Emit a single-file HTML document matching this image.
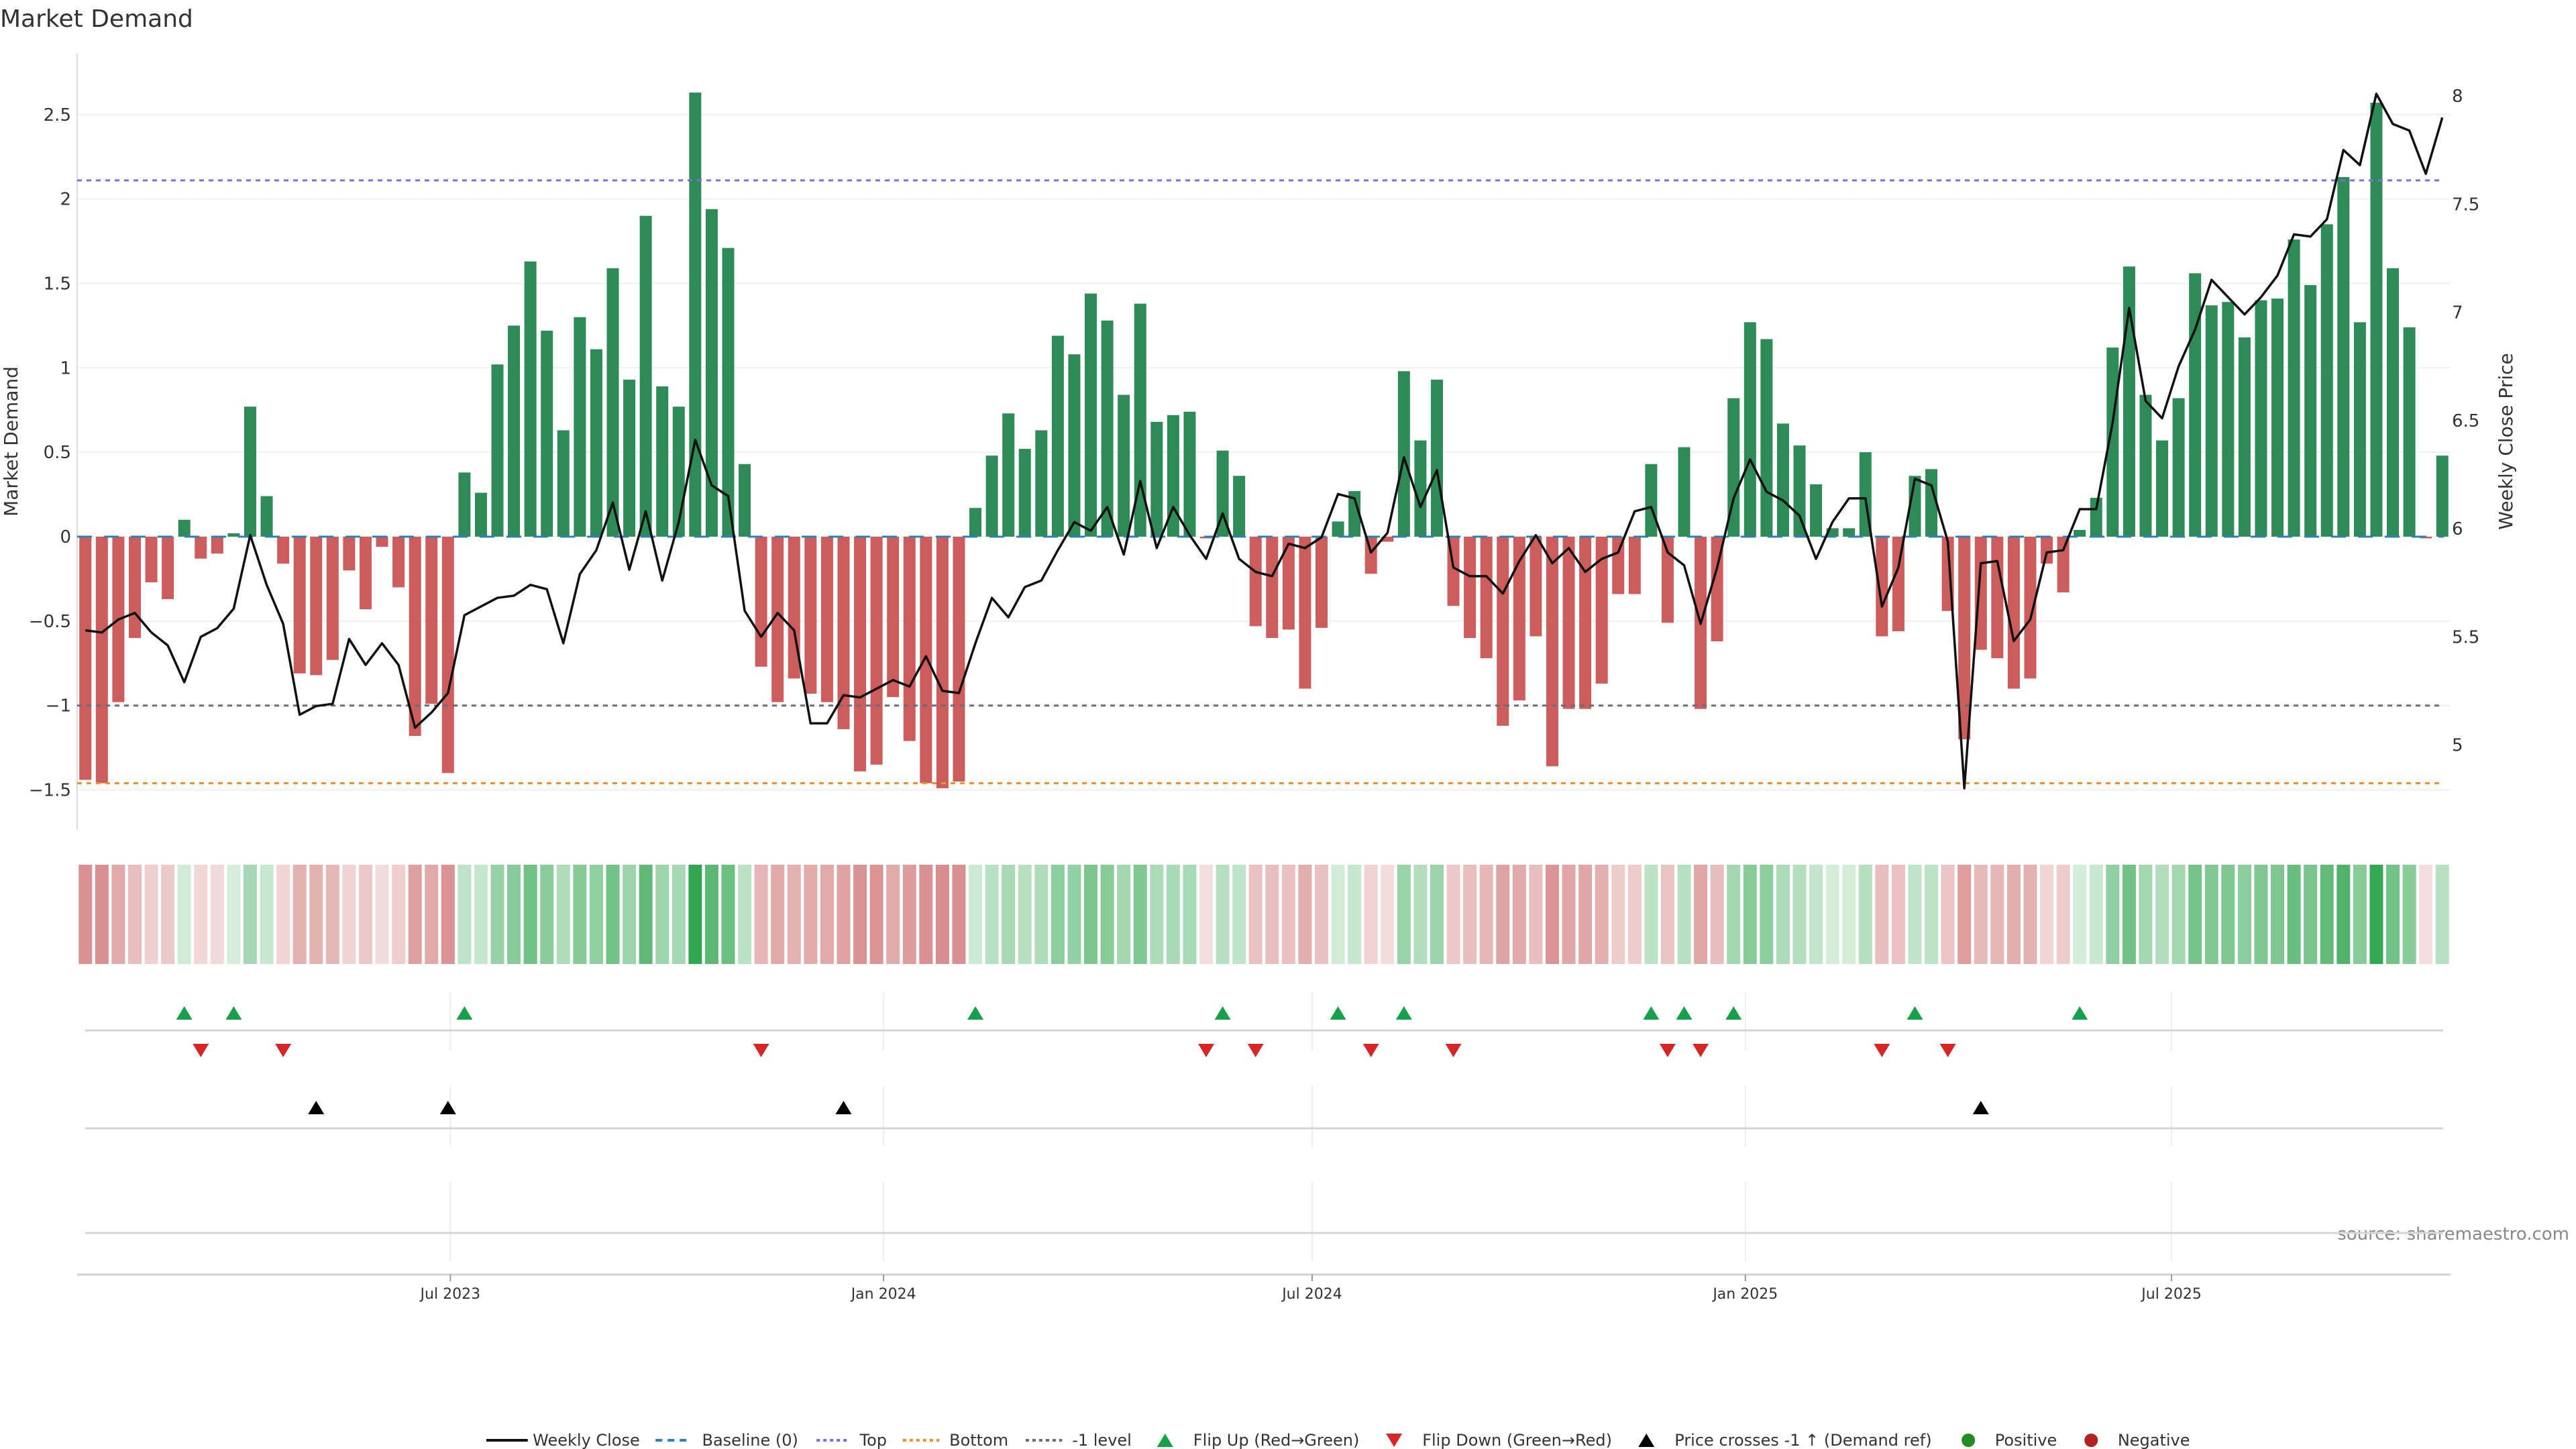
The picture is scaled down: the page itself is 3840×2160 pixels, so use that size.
<!DOCTYPE html>
<html><head><meta charset="utf-8"><title>Market Demand</title>
<style>html,body{margin:0;padding:0;background:#fff}svg{display:block;font-family:"DejaVu Sans","Liberation Sans",sans-serif}</style>
</head><body>
<svg id="chart" xmlns="http://www.w3.org/2000/svg" width="3840" height="2160" viewBox="0 0 3840 2160">
<text x="0" y="40" font-size="36" fill="#333">Market Demand</text>
<text transform="translate(26,658) rotate(-90)" text-anchor="middle" font-size="28" fill="#333">Market Demand</text>
<text transform="translate(3745,658) rotate(-90)" text-anchor="middle" font-size="28" fill="#333">Weekly Close Price</text>
<text x="3830" y="1848" text-anchor="end" font-size="26" fill="#888">source: sharemaestro.com</text>
<g id="g"></g>
</svg>
<script>
const demand=[-1.44,-1.46,-0.98,-0.60,-0.27,-0.37,0.10,-0.13,-0.10,0.02,0.77,0.24,-0.16,-0.81,-0.82,-0.73,-0.20,-0.43,-0.06,-0.30,-1.18,-0.99,-1.40,0.38,0.26,1.02,1.25,1.63,1.22,0.63,1.30,1.11,1.59,0.93,1.90,0.89,0.77,2.63,1.94,1.71,0.43,-0.77,-0.98,-0.84,-0.93,-0.98,-1.14,-1.39,-1.35,-0.95,-1.21,-1.46,-1.49,-1.45,0.17,0.48,0.73,0.52,0.63,1.19,1.08,1.44,1.28,0.84,1.38,0.68,0.72,0.74,-0.01,0.51,0.36,-0.53,-0.60,-0.55,-0.90,-0.54,0.09,0.27,-0.22,-0.03,0.98,0.57,0.93,-0.41,-0.60,-0.72,-1.12,-0.97,-0.59,-1.36,-1.02,-1.02,-0.87,-0.34,-0.34,0.43,-0.51,0.53,-1.02,-0.62,0.82,1.27,1.17,0.67,0.54,0.31,0.05,0.05,0.50,-0.59,-0.56,0.36,0.40,-0.44,-1.20,-0.67,-0.72,-0.90,-0.84,-0.16,-0.33,0.04,0.23,1.12,1.60,0.84,0.57,0.82,1.56,1.37,1.39,1.18,1.40,1.41,1.76,1.49,1.85,2.13,1.27,2.57,1.59,1.24,-0.01,0.48];
const closePrice=[5.53,5.52,5.58,5.61,5.52,5.46,5.29,5.50,5.54,5.63,5.97,5.74,5.56,5.14,5.18,5.19,5.49,5.37,5.47,5.37,5.08,5.15,5.24,5.60,5.64,5.68,5.69,5.74,5.72,5.47,5.79,5.90,6.12,5.81,6.08,5.76,6.03,6.41,6.20,6.15,5.62,5.50,5.61,5.53,5.10,5.10,5.23,5.22,5.26,5.30,5.27,5.41,5.25,5.24,5.47,5.68,5.59,5.73,5.76,5.90,6.03,5.99,6.10,5.88,6.22,5.91,6.10,5.97,5.86,6.07,5.86,5.80,5.78,5.93,5.91,5.96,6.16,6.14,5.89,5.98,6.33,6.10,6.27,5.82,5.78,5.78,5.70,5.85,5.97,5.84,5.91,5.80,5.86,5.89,6.08,6.10,5.89,5.83,5.56,5.82,6.14,6.32,6.17,6.13,6.06,5.86,6.03,6.14,6.14,5.64,5.82,6.23,6.20,5.94,4.80,5.84,5.85,5.48,5.58,5.89,5.90,6.09,6.09,6.49,7.02,6.59,6.51,6.75,6.92,7.15,7.07,6.99,7.07,7.17,7.36,7.35,7.43,7.75,7.68,8.01,7.87,7.84,7.64,7.90];
const flipUpIdx=[6,9,23,54,69,76,80,95,97,100,111,121];
const flipDownIdx=[7,12,41,68,71,78,83,96,98,109,113];
const crossIdx=[14,22,46,115];
const leftTicks=[-1.5,-1,-0.5,0,0.5,1,1.5,2,2.5];
const leftTickLabels=["−1.5","−1","−0.5","0","0.5","1","1.5","2","2.5"];
const rightTicks=[5,5.5,6,6.5,7,7.5,8];
const rightTickLabels=["5","5.5","6","6.5","7","7.5","8"];
const dateTicks=["2023-07-01","2024-01-01","2024-07-01","2025-01-01","2025-07-01"];
const dateTickLabels=["Jul 2023","Jan 2024","Jul 2024","Jan 2025","Jul 2025"];
const startDate="2023-01-27";
const topLevel=2.11, bottomLevel=-1.46, minusOneLevel=-1;

const NS="http://www.w3.org/2000/svg";
const g=document.getElementById('g');
const X0=115,X1=3653,N=demand.length,STEP=(X1-X0)/N;
function xi(i){return X0+(i+0.5)*STEP;}
function yv(v){return 800-v*251.7;}
function yp(p){return 788-(p-6)*322.5;}
function xd(s){const d=(new Date(s)-new Date(startDate))/(86400000*7);return xi(d);}
function mk(t,a,p){const e=document.createElementNS(NS,t);for(const k in a)e.setAttribute(k,a[k]);(p||g).appendChild(e);return e;}

leftTicks.forEach((v,k)=>{
 const l=mk('line',{x1:X0,x2:X1,y1:yv(v),y2:yv(v),stroke:'#eef0f3','stroke-width':2});
 
 
 const t=mk('text',{x:106,y:yv(v)+9,'text-anchor':'end','font-size':26,fill:'#333'});
 t.textContent=leftTickLabels[k];
 
 
});
rightTicks.forEach((p,k)=>{
 const t=mk('text',{x:3655,y:yp(p)+9,'font-size':26,fill:'#333'});
 t.textContent=rightTickLabels[k];
 
 
});
const ax=mk('line',{x1:X0,x2:X0,y1:79,y2:1237,stroke:'#ddd','stroke-width':2});



demand.forEach((v,i)=>{
 const y0=yv(0),y1=yv(v);
 const r=mk('rect',{x:xi(i)-9,y:Math.min(y0,y1),width:18,height:Math.max(1.5,Math.abs(y1-y0)),fill:v>=0?'#2e8b57':'#cd5c5c'});
 
 
});
function hline(v,color,name,dash){
 const l=mk('line',{x1:X0,x2:X1-10,y1:yv(v),y2:yv(v),stroke:color,'stroke-width':3,'stroke-dasharray':dash});
 
 
}
hline(0,'#2f7fb8','baseline-line','22 18');
hline(topLevel,'#7b6fdc','top-line','7 7');
hline(bottomLevel,'#f0922b','bottom-line','7 7');
hline(minusOneLevel,'#6b6b7b','minus-one-line','7 7');
const pts=closePrice.map((p,i)=>xi(i).toFixed(1)+','+yp(p).toFixed(1)).join(' ');
const pl=mk('polyline',{points:pts,fill:'none',stroke:'#111','stroke-width':3.5,'stroke-linejoin':'round'});



function heat(v){
 if(v>=0){const a=Math.min(1,v/2.6);const c0=[214,238,220],c1=[52,166,82];return 'rgb('+c0.map((c,k)=>Math.round(c+(c1[k]-c)*a)).join(',')+')';}
 const a=Math.min(1,-v/1.6);const c0=[244,222,222],c1=[214,136,136];return 'rgb('+c0.map((c,k)=>Math.round(c+(c1[k]-c)*a)).join(',')+')';}
demand.forEach((v,i)=>{
 const r=mk('rect',{x:xi(i)-10,y:1289,width:20,height:148,fill:heat(v)});
 
 
});

[[1479,1566],[1619,1709],[1762,1880]].forEach(([a,b])=>{
 dateTicks.forEach(d=>{const l=mk('line',{x1:xd(d),x2:xd(d),y1:a,y2:b,stroke:'#eceef1','stroke-width':2});
  
  });
});
[1536,1682,1838].forEach(y=>{const l=mk('line',{x1:127,x2:3642,y1:y,y2:y,stroke:'#d4d4d4','stroke-width':3});
 
 });
const bx=mk('line',{x1:X0,x2:X1,y1:1900,y2:1900,stroke:'#d0d0d0','stroke-width':3});


dateTicks.forEach((d,k)=>{
 const tk=mk('line',{x1:xd(d),x2:xd(d),y1:1900,y2:1910,stroke:'#999','stroke-width':2});
 
 
 const t=mk('text',{x:xd(d),y:1936,'text-anchor':'middle','font-size':22,fill:'#333'});
 t.textContent=dateTickLabels[k];
 
 
});
function tri(cx,cy,up,color){const h=20,w=12;
 const p=up?`${cx-w},${cy+h/2} ${cx+w},${cy+h/2} ${cx},${cy-h/2}`:`${cx-w},${cy-h/2} ${cx+w},${cy-h/2} ${cx},${cy+h/2}`;
 return mk('polygon',{points:p,fill:color});}
flipUpIdx.forEach(i=>{const m=tri(xi(i),1510,true,'#16a04a');
 
 });
flipDownIdx.forEach(i=>{const m=tri(xi(i),1566,false,'#d62728');
 
 });
crossIdx.forEach(i=>{const m=tri(xi(i),1651,true,'#000');
 
 });

const L=2.474,LY=2147;
function ltext(x,s){const t=mk('text',{x:x*L,y:LY+8,'font-size':24,fill:'#333'});t.textContent=s;
 
 }
function lline(x1,x2,c,dash,w){const l=mk('line',{x1:x1*L,x2:x2*L,y1:LY,y2:LY,stroke:c,'stroke-width':w,'stroke-dasharray':dash});
 
 }
lline(293,318,'#111','',4);ltext(321,'Weekly Close');
lline(395,416,'#2f7fb8','10 8',4);ltext(423,'Baseline (0)');
lline(492,512,'#7b6fdc','5 5',4);ltext(518,'Top');
lline(544,566,'#f0922b','5 5',4);ltext(572,'Bottom');
lline(618,640,'#6b6b7b','5 5',4);ltext(646,'-1 level');
let m=tri(702*L,LY,true,'#16a04a');ltext(719,'Flip Up (Red→Green)');
m=tri(840*L,LY,false,'#d62728');ltext(857,'Flip Down (Green→Red)');
m=tri(992*L,LY,true,'#000');ltext(1009,'Price crosses -1 ↑ (Demand ref)');
m=mk('circle',{cx:1186*L,cy:LY,r:10,fill:'#228b22'});ltext(1202,'Positive');
m=mk('circle',{cx:1260*L,cy:LY,r:10,fill:'#b22222'});ltext(1276,'Negative');
</script>
</body></html>
